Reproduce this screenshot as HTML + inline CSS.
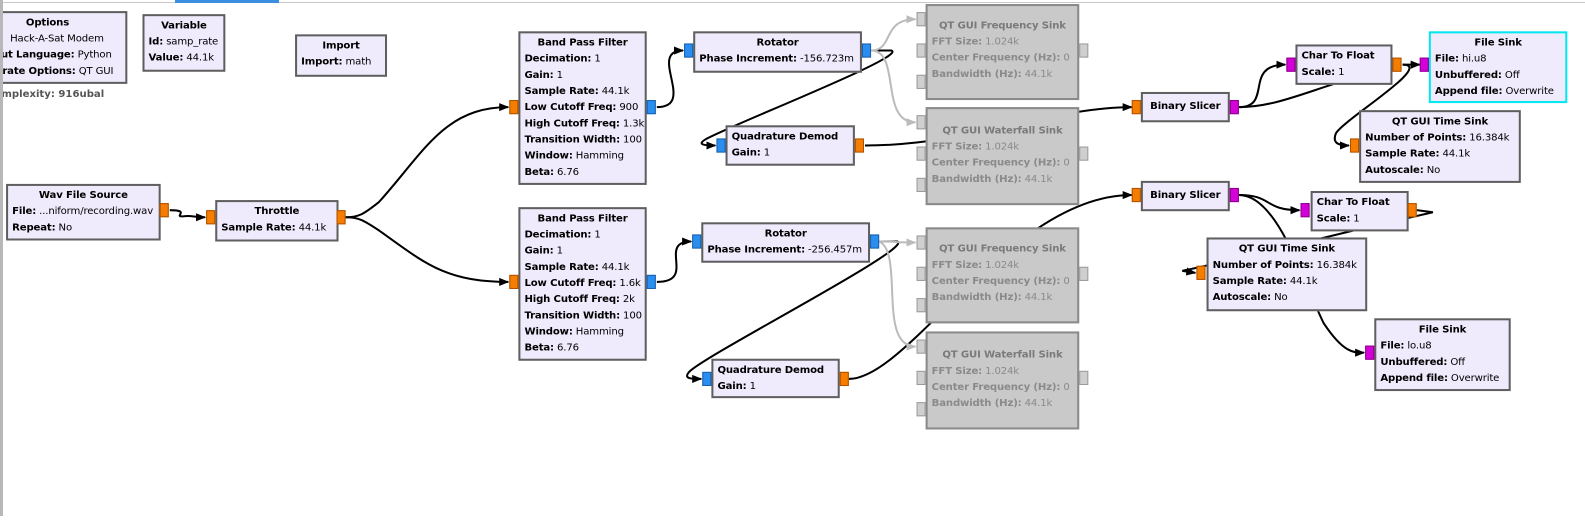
<!DOCTYPE html>
<html><head><meta charset="utf-8"><style>
body{margin:0;width:1585px;height:516px;overflow:hidden;background:#fff;position:relative;font-family:"DejaVu Sans","Liberation Sans",sans-serif;font-size:10px;color:#000}
#w{position:absolute;left:0;top:0;width:1585px;height:516px;transform:scale(1.0105);transform-origin:0 0}
.b{position:absolute;box-sizing:border-box;border:2px solid #5f5f5f;background:#efebfc;padding:2px 4px;line-height:16px;white-space:nowrap;overflow:hidden;letter-spacing:-0.15px}
.b .t{text-align:center;font-weight:bold}
.b b{font-weight:bold}
.d{background:#c9c9c9;border-color:#8a8a8a;color:#8a8a8a;padding-top:10px}
.d .t{color:#7a7a7a}
.p{position:absolute;width:9px;height:14px;box-sizing:border-box;border:1px solid #b05000;background:#f57d00}
.bl{background:#2a8ef0;border-color:#1a5fa8}
.mg{background:#d400d8;border-color:#8a008c}
.gr{background:#cfcfcf;border-color:#9a9a9a}
svg{position:absolute;left:0;top:0}
</style></head><body>
<div id="w">
<svg width="1585" height="516">
<defs><marker id="a" markerWidth="10" markerHeight="10" refX="9" refY="5" orient="auto" markerUnits="userSpaceOnUse"><path d="M0,1 L10,5 L0,9z" fill="#000"/></marker>
<marker id="g" markerWidth="10" markerHeight="10" refX="9" refY="5" orient="auto" markerUnits="userSpaceOnUse"><path d="M0,1 L10,5 L0,9z" fill="#bbb"/></marker></defs>
<g fill="none" stroke="#000" stroke-width="2">
<path d="M168,208 C190,208 170,215 182,214 C190,213 192,215 203,215" marker-end="url(#a)"/>
<path d="M342,215 C355,215 360,212 375,200 C420,150 440,106 503,106" marker-end="url(#a)"/>
<path d="M342,215 C355,215 360,218 375,228 C420,260 440,279 503,279" marker-end="url(#a)"/>
<path d="M650,106 C690,106 640,50 676,50" marker-end="url(#a)"/>
<path d="M862,50 L882,50 C900,55 720,125 698,138 C690,143 696,144 708,144" marker-end="url(#a)"/>
<path d="M856,144 C960,144 1040,106 1120,106" marker-end="url(#a)"/>
<path d="M1226,106 C1260,106 1230,64 1272,64" marker-end="url(#a)"/>
<path d="M1226,106 C1260,106 1290,92 1330,80"/>
<path d="M1388,64 L1405,64" marker-end="url(#a)"/>
<path d="M1388,64 C1420,64 1330,118 1322,132 C1318,142 1325,144 1335,144" marker-end="url(#a)"/>
<path d="M650,279 C690,279 650,239 684,239" marker-end="url(#a)"/>
<path d="M870,239 L888,239 C905,245 700,350 682,368 C676,375 684,375 694,375" marker-end="url(#a)"/>
<path d="M840,375 C900,375 1000,193 1120,193" marker-end="url(#a)"/>
<path d="M1226,193 C1260,193 1250,208 1286,208" marker-end="url(#a)"/>
<path d="M1226,193 C1265,193 1290,280 1310,320 C1330,350 1340,349 1350,349" marker-end="url(#a)"/>
<path d="M1402,208 L1418,210 L1340,228 C1250,250 1200,262 1170,268 L1183,270" marker-end="url(#a)"/>
</g>
<g fill="none" stroke="#bbb" stroke-width="2">
<path d="M862,50 C885,50 872,19 906,19" marker-end="url(#g)"/>
<path d="M862,50 C892,50 870,121 906,121" marker-end="url(#g)"/>
<path d="M870,239 C893,239 880,240 906,240" marker-end="url(#g)"/>
<path d="M870,239 C895,250 868,343 906,343" marker-end="url(#g)"/>
</g>
</svg>

<div class="b" style="left:-34px;top:11px;width:160px;height:72px;text-align:left;padding-left:6px"><div class="t" style="padding-left:0">Options</div><div style="padding-left:36px">Hack-A-Sat Modem</div><div><b>Output Language:</b> Python</div><div><b>Generate Options:</b> QT GUI</div></div>
<div style="position:absolute;left:3px;top:88px;font-weight:bold;color:#555;overflow:hidden;width:100px;white-space:nowrap;direction:rtl">Complexity: 916ubal</div>
<div class="b" style="left:141px;top:14px;width:82px;height:57px"><div class="t">Variable</div><div><b>Id:</b> samp_rate</div><div><b>Value:</b> 44.1k</div></div>
<div class="b" style="left:292px;top:34px;width:91px;height:42px"><div class="t">Import</div><div><b>Import:</b> math</div></div>

<div class="b" style="left:6px;top:182px;width:153px;height:56px"><div class="t">Wav File Source</div><div><b>File:</b> ...niform/recording.wav</div><div><b>Repeat:</b> No</div></div>
<div class="p" style="left:158px;top:201px"></div>
<div class="b" style="left:213px;top:198px;width:122px;height:41px"><div class="t">Throttle</div><div><b>Sample Rate:</b> 44.1k</div></div>
<div class="p" style="left:204px;top:208px"></div><div class="p" style="left:333px;top:208px"></div>

<div class="b" style="left:513px;top:31px;width:127px;height:152px"><div class="t">Band Pass Filter</div><div><b>Decimation:</b> 1</div><div><b>Gain:</b> 1</div><div><b>Sample Rate:</b> 44.1k</div><div><b>Low Cutoff Freq:</b> 900</div><div><b>High Cutoff Freq:</b> 1.3k</div><div><b>Transition Width:</b> 100</div><div><b>Window:</b> Hamming</div><div><b>Beta:</b> 6.76</div></div>
<div class="p" style="left:504px;top:99px"></div><div class="p bl" style="left:640px;top:99px"></div>
<div class="b" style="left:513px;top:205px;width:127px;height:152px"><div class="t">Band Pass Filter</div><div><b>Decimation:</b> 1</div><div><b>Gain:</b> 1</div><div><b>Sample Rate:</b> 44.1k</div><div><b>Low Cutoff Freq:</b> 1.6k</div><div><b>High Cutoff Freq:</b> 2k</div><div><b>Transition Width:</b> 100</div><div><b>Window:</b> Hamming</div><div><b>Beta:</b> 6.76</div></div>
<div class="p" style="left:504px;top:272px"></div><div class="p bl" style="left:640px;top:272px"></div>

<div class="b" style="left:686px;top:31px;width:167px;height:41px"><div class="t">Rotator</div><div><b>Phase Increment:</b> -156.723m</div></div>
<div class="p bl" style="left:677px;top:43px"></div><div class="p bl" style="left:853px;top:43px"></div>
<div class="b" style="left:718px;top:124px;width:128px;height:40px"><div><b>Quadrature Demod</b></div><div><b>Gain:</b> 1</div></div>
<div class="p bl" style="left:709px;top:137px"></div><div class="p" style="left:846px;top:137px"></div>
<div class="b" style="left:694px;top:220px;width:167px;height:40px"><div class="t">Rotator</div><div><b>Phase Increment:</b> -256.457m</div></div>
<div class="p bl" style="left:685px;top:232px"></div><div class="p bl" style="left:861px;top:232px"></div>
<div class="b" style="left:704px;top:355px;width:127px;height:39px"><div><b>Quadrature Demod</b></div><div><b>Gain:</b> 1</div></div>
<div class="p bl" style="left:695px;top:368px"></div><div class="p" style="left:831px;top:368px"></div>

<div class="b d" style="left:916px;top:4px;width:152px;height:95px;padding-top:12px"><div class="t">QT GUI Frequency Sink</div><div><b>FFT Size:</b> 1.024k</div><div><b>Center Frequency (Hz):</b> 0</div><div><b>Bandwidth (Hz):</b> 44.1k</div></div>
<div class="p gr" style="left:907px;top:12px"></div><div class="p gr" style="left:907px;top:43px"></div><div class="p gr" style="left:907px;top:74px"></div><div class="p gr" style="left:1068px;top:43px"></div>
<div class="b d" style="left:916px;top:106px;width:152px;height:97px;padding-top:14px"><div class="t">QT GUI Waterfall Sink</div><div><b>FFT Size:</b> 1.024k</div><div><b>Center Frequency (Hz):</b> 0</div><div><b>Bandwidth (Hz):</b> 44.1k</div></div>
<div class="p gr" style="left:907px;top:114px"></div><div class="p gr" style="left:907px;top:145px"></div><div class="p gr" style="left:907px;top:176px"></div><div class="p gr" style="left:1068px;top:145px"></div>
<div class="b d" style="left:916px;top:225px;width:152px;height:95px;padding-top:12px"><div class="t">QT GUI Frequency Sink</div><div><b>FFT Size:</b> 1.024k</div><div><b>Center Frequency (Hz):</b> 0</div><div><b>Bandwidth (Hz):</b> 44.1k</div></div>
<div class="p gr" style="left:907px;top:233px"></div><div class="p gr" style="left:907px;top:264px"></div><div class="p gr" style="left:907px;top:295px"></div><div class="p gr" style="left:1068px;top:264px"></div>
<div class="b d" style="left:916px;top:328px;width:152px;height:97px;padding-top:14px"><div class="t">QT GUI Waterfall Sink</div><div><b>FFT Size:</b> 1.024k</div><div><b>Center Frequency (Hz):</b> 0</div><div><b>Bandwidth (Hz):</b> 44.1k</div></div>
<div class="p gr" style="left:907px;top:336px"></div><div class="p gr" style="left:907px;top:367px"></div><div class="p gr" style="left:907px;top:398px"></div><div class="p gr" style="left:1068px;top:367px"></div>

<div class="b" style="left:1129px;top:91px;width:88px;height:30px;padding-top:5px"><div class="t">Binary Slicer</div></div>
<div class="p" style="left:1120px;top:99px"></div><div class="p mg" style="left:1217px;top:99px"></div>
<div class="b" style="left:1129px;top:179px;width:88px;height:30px;padding-top:5px"><div class="t">Binary Slicer</div></div>
<div class="p" style="left:1120px;top:186px"></div><div class="p mg" style="left:1217px;top:186px"></div>

<div class="b" style="left:1282px;top:44px;width:96px;height:40px"><div><b>Char To Float</b></div><div><b>Scale:</b> 1</div></div>
<div class="p mg" style="left:1273px;top:57px"></div><div class="p" style="left:1378px;top:57px"></div>
<div class="b" style="left:1414px;top:31px;width:137px;height:71px;border-color:#00e8f0"><div class="t">File Sink</div><div><b>File:</b> hi.u8</div><div><b>Unbuffered:</b> Off</div><div><b>Append file:</b> Overwrite</div></div>
<div class="p mg" style="left:1405px;top:57px"></div>
<div class="b" style="left:1345px;top:109px;width:160px;height:72px"><div class="t">QT GUI Time Sink</div><div><b>Number of Points:</b> 16.384k</div><div><b>Sample Rate:</b> 44.1k</div><div><b>Autoscale:</b> No</div></div>
<div class="p" style="left:1336px;top:137px"></div>

<div class="b" style="left:1297px;top:189px;width:97px;height:40px"><div><b>Char To Float</b></div><div><b>Scale:</b> 1</div></div>
<div class="p mg" style="left:1287px;top:201px"></div><div class="p" style="left:1393px;top:201px"></div>
<div class="b" style="left:1194px;top:235px;width:159px;height:73px"><div class="t">QT GUI Time Sink</div><div><b>Number of Points:</b> 16.384k</div><div><b>Sample Rate:</b> 44.1k</div><div><b>Autoscale:</b> No</div></div>
<div class="p" style="left:1184px;top:263px"></div>
<div class="b" style="left:1360px;top:315px;width:135px;height:72px"><div class="t">File Sink</div><div><b>File:</b> lo.u8</div><div><b>Unbuffered:</b> Off</div><div><b>Append file:</b> Overwrite</div></div>
<div class="p mg" style="left:1351px;top:342px"></div>
</div>
<div style="position:absolute;left:0;top:2px;width:1585px;height:1px;background:#c8c8c8"></div>
<div style="position:absolute;left:175px;top:0;width:104px;height:3px;background:#3c8ee0"></div>
<div style="position:absolute;left:0;top:0;width:3px;height:516px;background:#b8b8b8"></div>
</body></html>
